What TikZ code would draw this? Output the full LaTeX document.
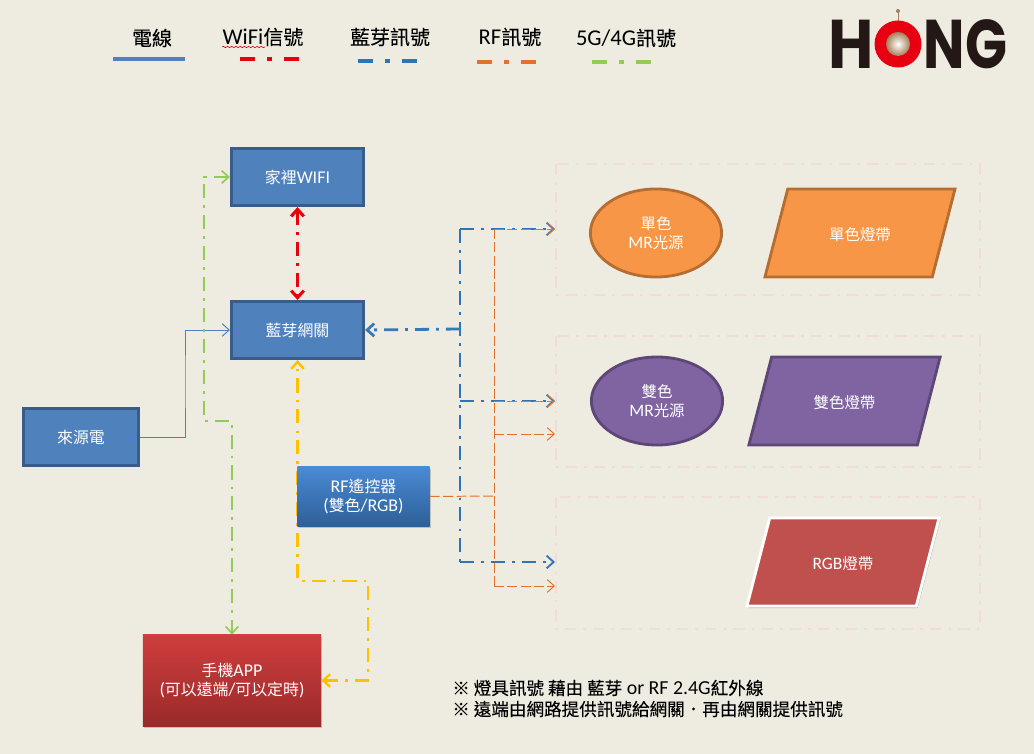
\documentclass[tikz,border=0pt]{standalone}
\usepackage{fontspec}
\setmainfont{Carlito}[Scale=1.13]
\newfontfamily\cjkfont{Noto Sans CJK TC}
\newfontfamily\cjkheavy{Noto Sans CJK TC}[FakeBold=0.15]
\newfontfamily\logofont{Poppins}
\newcommand{\zh}[1]{{\cjkfont #1}}
\newcommand{\zhb}[1]{{\cjkheavy #1}}
\usetikzlibrary{arrows.meta,shapes.geometric,shadows,decorations.pathmorphing}
\definecolor{paper}{HTML}{EEECE1}
\definecolor{boxblue}{HTML}{4F81BD}
\definecolor{boxedge}{HTML}{385D8A}
\definecolor{sigblue}{HTML}{2F75B5}
\definecolor{sigred}{HTML}{E8000B}
\definecolor{sigorange}{HTML}{E2722A}
\definecolor{siggreen}{HTML}{92CC55}
\definecolor{sigyellow}{HTML}{FFC000}
\definecolor{groupedge}{HTML}{F2DCDB}
\definecolor{lamporange}{HTML}{F79646}
\definecolor{edgeorange}{HTML}{B66D31}
\definecolor{lamppurple}{HTML}{8064A2}
\definecolor{edgepurple}{HTML}{5C4776}
\definecolor{striprose}{HTML}{C0504D}
\definecolor{rftop}{HTML}{4A8AD4}
\definecolor{rfbottom}{HTML}{2D6099}
\definecolor{apptop}{HTML}{CF3D3D}
\definecolor{appbottom}{HTML}{9A2A2A}
\definecolor{logored}{HTML}{E60012}
\definecolor{logoblack}{HTML}{231815}
\begin{document}
\begin{tikzpicture}[x=0.025cm,y=-0.025cm,
    >={Straight Barb[length=5pt,width=9pt]},
    softshadow/.style ={drop shadow={shadow xshift=1pt,shadow yshift=-1.5pt,opacity=.4}},
    plainbox/.style ={rectangle, draw=boxedge, fill=boxblue, line width=2.2pt, text=white,
      minimum width=3.3cm, minimum height=1.425cm, align=center, font=\fontsize{11.3pt}{14pt}\selectfont},
    rfbox/.style ={rectangle, top color=rftop, bottom color=rfbottom, text=white, softshadow,
      minimum width=3.3cm, minimum height=1.475cm, align=center, font=\fontsize{11.3pt}{14pt}\selectfont},
    appbox/.style ={rectangle, top color=apptop, bottom color=appbottom, text=white, softshadow,
      minimum width=4.45cm, minimum height=2.275cm, align=center, font=\fontsize{11.3pt}{14pt}\selectfont},
    lamp/.style ={ellipse, line width=2pt, text=white, minimum width=3.28cm, minimum height=2.2cm,
      align=center, font=\fontsize{11pt}{14pt}\selectfont},
    strip/.style ={trapezium, trapezium left angle=75.5, trapezium right angle=104.5, trapezium stretches body,
      line width=2pt, text=white, text height=12pt, text depth=1.5pt, inner ysep=24.55pt, minimum width=4.75cm,
      font=\fontsize{11pt}{14pt}\selectfont},
    groupbox/.style ={draw=groupedge, line width=1.4pt, dash pattern=on 8pt off 5pt on 2pt off 5pt},
    legendtext/.style ={font=\fontsize{14.2pt}{16pt}\selectfont},
    signal/.style ={dash pattern=on 10pt off 5pt on 2pt off 5pt},
    rfsignal/.style ={sigorange, line width=0.7pt, dash pattern=on 7pt off 2.5pt},
    legendline/.style ={line width=2.8pt, dash pattern=on 11pt off 8.5pt on 3pt off 8.5pt},
    logotext/.style ={inner sep=0pt, transform shape, text=logoblack, font=\logofont\bfseries\fontsize{49pt}{49pt}\selectfont}]
   \fill[paper] (0,0) rectangle (1034,754);

   % legend
   \node[legendtext] (wirelabel) at (152,38) {\zhb{電線}};
   \node[legendtext] (wifilabel) at (263,37) {WiFi\zhb{信號}};
   \node[legendtext] (bluelabel) at (390,37) {\zhb{藍芽訊號}};
   \node[legendtext] (rflabel) at (510,37) {RF\zhb{訊號}};
   \node[legendtext] (celllabel) at (626,38) {5G/4G\zhb{訊號}};
   \draw[boxblue, line width=2.4pt] (113,59) -- (185,59);
   \draw[sigred, legendline] (240,59) -- (299,59);
   \draw[sigblue, legendline] (358,61) -- (418,61);
   \draw[sigorange, legendline] (477,62) -- (537,62);
   \draw[siggreen, legendline] (592,62) -- (652,62);
   \draw[red!80!black, line width=0.4pt, decorate, decoration={snake,amplitude=0.5pt,segment length=3pt}] (222,47) -- (265,47);

   % logo
   \node[logotext, xscale=0.9] (logoh) at (851.5,44) {H};
   \node[logotext, xscale=0.8] (logong) at (965.5,44) {NG};
   \draw[brown!70!gray, line width=0.5pt] (898,11) -- (898,30);
   \fill[gray!60!brown] (898,11) circle (2);
   \node[circle, fill=logored, minimum size=1.175cm, inner sep=0pt] (logoo) at (898,44) {};
   \node[circle, inner color=white, outer color=brown!60!gray, minimum size=0.6cm, inner sep=0pt] (logocore) at (898,44) {};

   % groups
   \draw[groupbox] (556,164) rectangle (980,295);
   \draw[groupbox] (556,336) rectangle (980,467);
   \draw[groupbox] (556,497) rectangle (980,629);

   % lamps
   \node[lamp, fill=lamporange, draw=edgeorange] (lampone) at (656,233) {\zh{單色}\\MR\zh{光源}};
   \node[strip, fill=lamporange, draw=edgeorange] (stripone) at (860,233) {\zh{單色燈帶}};
   \node[lamp, fill=lamppurple, draw=edgepurple] (lamptwo) at (657,401) {\zh{雙色}\\MR\zh{光源}};
   \node[strip, fill=lamppurple, draw=edgepurple, minimum width=4.78cm] (striptwo) at (844.5,401) {\zh{雙色燈帶}};
   \node[strip, fill=striprose, draw=white, softshadow, minimum width=4.8cm] (striprgb) at (843,562) {RGB\zh{燈帶}};

   % boxes
   \node[plainbox] (wifi) at (297.5,177) {\zh{家裡}WIFI};
   \node[plainbox] (gateway) at (297.5,330) {\zh{藍芽網關}};
   \node[plainbox, minimum width=2.87cm] (source) at (81,437) {\zh{來源電}};
   \node[appbox] (app) at (232,680.5) {\zh{手機}APP\\(\zh{可以遠端}/\zh{可以定時})};

   \coordinate (greenbend) at (204,421);
   \coordinate (powerbend) at (185,380);
   \coordinate (yellowbend) at (368,581);
   \coordinate (bluejoint) at (460,329);
   \coordinate (bluetop) at (460,229);
   \coordinate (bluemid) at (460,401);
   \coordinate (bluelow) at (460,562);
   \coordinate (orangejoint) at (494,496);
   \coordinate (orangetop) at (494,229);
   \coordinate (orangemid) at (494,401);
   \coordinate (orangenext) at (494,434);
   \coordinate (orangelow) at (494,586);
   \coordinate (inone) at (555,229);
   \coordinate (intwo) at (555,401);
   \coordinate (inthree) at (555,434);
   \coordinate (inblue) at (555,562);
   \coordinate (inorange) at (555,586);

   \draw[boxblue, line width=0.7pt, ->] (source.east) -| (powerbend) |- (gateway.west);
   \draw[siggreen, line width=1.2pt, signal, <->] (wifi.west) -| (greenbend) -| (app.north);
   \draw[sigred, line width=2.2pt, signal, <->] (wifi.south) to (gateway.north);
   \draw[sigyellow, line width=1.7pt, signal, <->] (app.east) -| (yellowbend) -| (gateway.south);

   \draw[sigblue, line width=1.3pt, signal] (bluetop) -- (bluelow);
   \draw[sigblue!70!boxblue, line width=2pt, signal, ->] (bluejoint) to (gateway.east);
   \draw[sigblue, line width=1.3pt, signal, ->] (bluetop) to (inone);
   \draw[sigblue, line width=1.3pt, signal, ->] (bluemid) to (intwo);
   \draw[sigblue, line width=1.3pt, signal, ->] (bluelow) to (inblue);

   \node[rfbox] (remote) at (363.5,496.5) {RF\zh{遙控器}\\(\zh{雙色}/RGB)};

   \draw[rfsignal] (remote.east) to (orangejoint);
   \draw[rfsignal] (orangetop) -- (orangelow);
   \draw[rfsignal, ->] (orangetop) to (inone);
   \draw[rfsignal, ->] (orangemid) to (intwo);
   \draw[rfsignal, ->] (orangenext) to (inthree);
   \draw[rfsignal, ->] (orangelow) to (inorange);

   % notes
   \node[anchor=west, inner sep=0pt, font=\fontsize{12.5pt}{15pt}\selectfont, align=left] (notes) at (452,698.5)
     {\zhb{※ 燈具訊號 藉由 藍芽} or RF 2.4G\zhb{紅外線}\\\zhb{※ 遠端由網路提供訊號給網關．再由網關提供訊號}};
 \end{tikzpicture}
\end{document}
